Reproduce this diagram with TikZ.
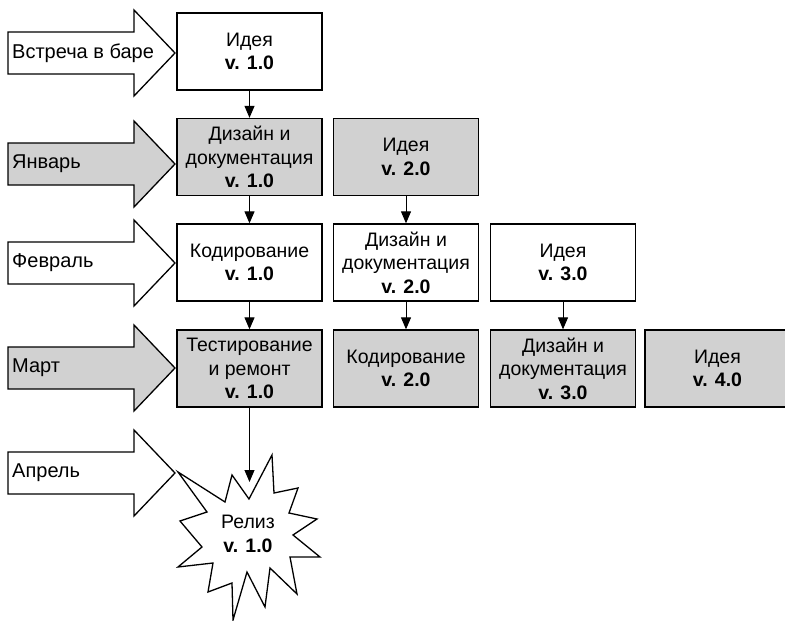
\documentclass[tikz,border=0pt]{standalone}
\usepackage{fontspec}
\setmainfont{Liberation Sans}
\usetikzlibrary{arrows.meta}

\begin{document}
\begin{tikzpicture}[x=1pt, y=-1pt, >={Triangle[length=12pt,width=10pt]},
  txt/.style={font=\fontsize{19.5}{23.5}\selectfont},
  box/.style={draw, txt, line width=1.3pt, minimum width=145pt, minimum height=77pt, inner sep=1pt, align=center},
  graybox/.style={box, fill=black!18},
  flow/.style={->, line width=1pt}]
  \useasboundingbox (0,0) rectangle (785,621);

  % Month arrows on the left
  \foreach \c/\f/\t [count=\i] in {53/white/Встреча в баре, 164/black!18/Январь, 263/white/Февраль, 368/black!18/Март, 473/white/Апрель} {
    \draw[line width=1.3pt, fill=\f] (8,\c-21) -- (134,\c-21) -- (134,\c-43) -- (175,\c) -- (134,\c+43) -- (134,\c+21) -- (8,\c+21) -- cycle;
    \node[font=\fontsize{20}{24}\selectfont, anchor=west, inner sep=0pt] (month\i) at (12,\c) {\t};
  }

  % Version boxes
  \node[box] (idea1) at (249.5,51.5) {Идея\\\textbf{v. 1.0}};
  \node[graybox] (design1) at (249.5,157) {Дизайн и\\документация\\\textbf{v. 1.0}};
  \node[graybox] (idea2) at (406,157) {Идея\\\textbf{v. 2.0}};
  \node[box] (code1) at (249.5,262.5) {Кодирование\\\textbf{v. 1.0}};
  \node[box] (design2) at (406,262.5) {Дизайн и\\документация\\\textbf{v. 2.0}};
  \node[box] (idea3) at (563,262.5) {Идея\\\textbf{v. 3.0}};
  \node[graybox] (test1) at (249.5,368.5) {Тестирование\\и ремонт\\\textbf{v. 1.0}};
  \node[graybox] (code2) at (406,368.5) {Кодирование\\\textbf{v. 2.0}};
  \node[graybox] (design3) at (563,368.5) {Дизайн и\\документация\\\textbf{v. 3.0}};
  \node[graybox] (idea4) at (717.5,368.5) {Идея\\\textbf{v. 4.0}};

  % Release star
  \draw[line width=1.3pt, fill=white] (178,472) -- (225,502) -- (232,475) -- (249,499)
    -- (272,455) -- (274,493) -- (298,488) -- (289,513) -- (317,519) -- (293,535)
    -- (320,557) -- (290,557) -- (297,594) -- (270,568) -- (265,607) -- (247,572)
    -- (233,620) -- (232,583) -- (208,592) -- (213,563) -- (178,567) -- (202,547)
    -- (180,521) -- (207,512) -- cycle;
  \node[txt, align=center, inner sep=0pt] (release) at (248,534) {Релиз\\\textbf{v. 1.0}};
  \coordinate (releasetip) at (249.5,482);

  % Flow between stages
  \draw[flow] (idea1) -- (design1);
  \draw[flow] (design1) -- (code1);
  \draw[flow] (code1) -- (test1);
  \draw[flow] (idea2) -- (design2);
  \draw[flow] (design2) -- (code2);
  \draw[flow] (idea3) -- (design3);
  \draw[flow] (test1) -- (releasetip);
\end{tikzpicture}
\end{document}
